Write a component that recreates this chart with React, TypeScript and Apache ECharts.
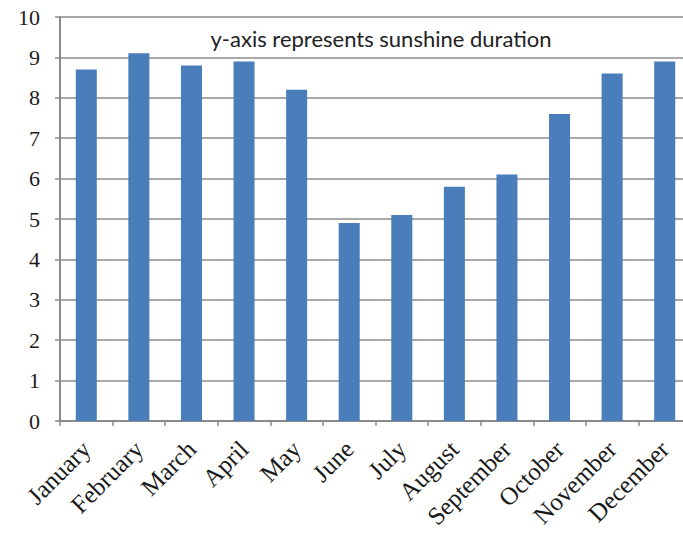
import React, { useEffect, useRef } from "react";
import * as echarts from "echarts";

const months = [
  "January", "February", "March", "April", "May", "June",
  "July", "August", "September", "October", "November", "December",
];
const sunshine = [8.7, 9.1, 8.8, 8.9, 8.2, 4.9, 5.1, 5.8, 6.1, 7.6, 8.6, 8.9];
const yTicks = [0, 10];
const annotation = "y-axis represents sunshine duration";

export default function App() {
  const ref = useRef<HTMLDivElement>(null);
  useEffect(() => {
    if (!ref.current) return;
    const chart = echarts.init(ref.current, null, { renderer: "svg" });
    chart.setOption({
      animation: false,
      backgroundColor: "#ffffff",
      title: {
        text: annotation,
        left: 376,
        top: 22,
        textAlign: "center",
        textStyle: {
          fontFamily: "Lato",
          fontWeight: "normal",
          fontSize: 22,
          color: "#222222",
        },
      },
      grid: { left: 60, top: 17, width: 631, height: 404, containLabel: false },
      xAxis: {
        type: "category",
        data: months,
        boundaryGap: true,
        axisLine: { lineStyle: { color: "#8a8a8a", width: 2 } },
        axisTick: { show: true, alignWithLabel: false, length: 5, lineStyle: { color: "#8a8a8a", width: 1.5 } },
        axisLabel: {
          rotate: 45,
          interval: 0,
          margin: 24,
          fontFamily: "Liberation Serif",
          fontSize: 25,
          color: "#1a1a1a",
        },
      },
      yAxis: {
        type: "value",
        min: yTicks[0],
        max: yTicks[1],
        interval: 1,
        axisLine: { show: true, lineStyle: { color: "#8a8a8a", width: 2 } },
        axisTick: { show: true, length: 5, lineStyle: { color: "#8a8a8a", width: 1.5 } },
        splitLine: { show: true, lineStyle: { color: "#8c8c8c", width: 1.5 } },
        axisLabel: {
          margin: 20,
          fontFamily: "Liberation Serif",
          fontSize: 22,
          color: "#1a1a1a",
        },
      },
      series: [
        {
          type: "bar",
          data: sunshine,
          barWidth: "40%",
          itemStyle: { color: "#4a7ebb" },
        },
      ],
    });
    return () => chart.dispose();
  }, []);
  return (
    <div
      ref={ref}
      style={{ position: "fixed", left: 0, top: 0, width: 700, height: 533 }}
    />
  );
}
